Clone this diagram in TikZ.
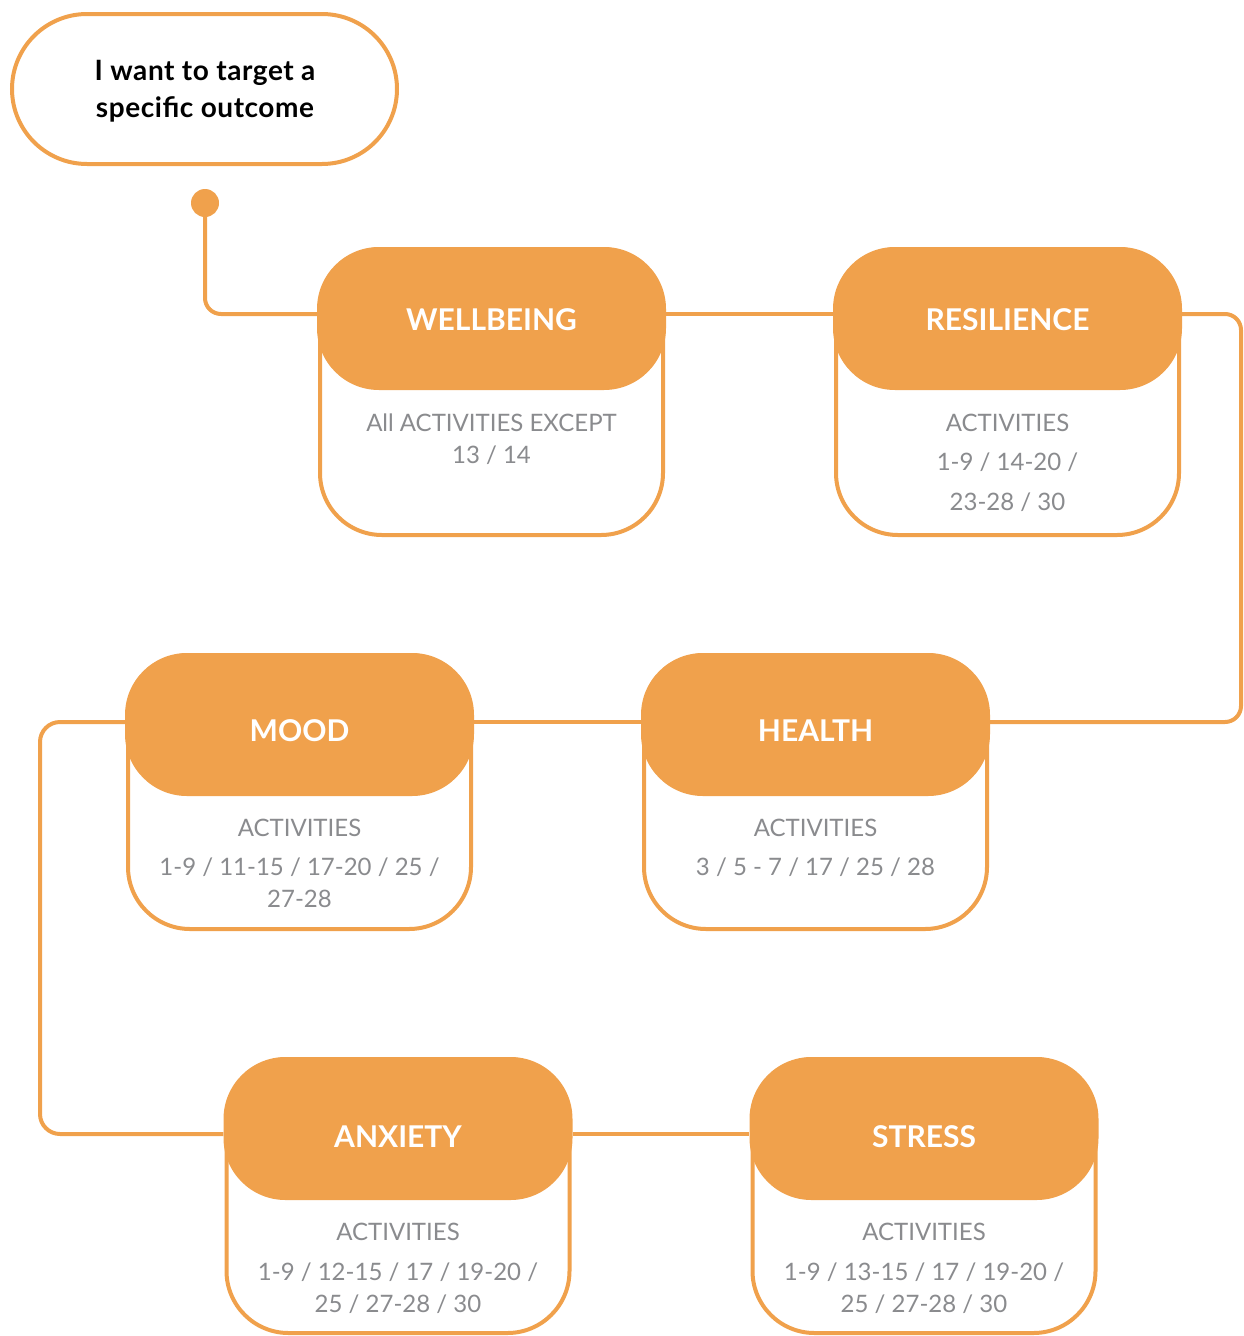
\documentclass[tikz,border=0pt]{standalone}
\usepackage{fontspec}
\setmainfont{Lato}
\definecolor{org}{HTML}{F0A14C}
\definecolor{gry}{HTML}{8A8B8E}
\begin{document}
\begin{tikzpicture}[x=1pt,y=-1pt,
 hdr/.style={fill=org, rounded corners=62pt, minimum width=349pt, minimum height=143pt, inner sep=0pt},
 card/.style={draw=org, line width=4pt, fill=white, rounded corners=62pt, minimum width=343pt, inner sep=0pt},
 conn/.style={draw=org, line width=4pt},
 ttl/.style={anchor=base, text=white, font=\fontsize{30}{34}\selectfont\bfseries},
 bod/.style={anchor=base, text=gry, font=\fontsize{24}{28}\selectfont},
 stxt/.style={anchor=base, text=black, font=\fontsize{28}{32}\selectfont\bfseries\addfontfeature{LetterSpace=2}},
]
\useasboundingbox (0,0) rectangle (1243,1336);
% start
\node[draw=org, line width=4pt, fill=white, rounded corners=75pt, minimum width=385pt, minimum height=150pt, inner sep=0pt] (start) at (204.5,89) {};
\node[stxt] (s1) at (205,80) {I want to target a};
\node[stxt] (s2) at (205,117) {specific outcome};
\node[circle, fill=org, minimum size=28pt, inner sep=0pt] (dot) at (205,203) {};
% cards
\node[card, minimum height=286pt] (wellC) at (491.5,392) {};
\node[card, minimum height=286pt] (resC) at (1007.5,392) {};
\node[card, minimum height=274pt] (moodC) at (299.5,792) {};
\node[card, minimum height=274pt] (healthC) at (815.5,792) {};
\node[card, minimum height=274pt] (anxC) at (398,1196) {};
\node[card, minimum height=274pt] (stressC) at (924,1196) {};
% headers
\node[hdr] (well) at (491.5,318.5) {};
\node[hdr] (res) at (1007.5,318.5) {};
\node[hdr] (mood) at (299.5,724.5) {};
\node[hdr] (health) at (815.5,724.5) {};
\node[hdr] (anx) at (398,1128.5) {};
\node[hdr] (stress) at (924,1128.5) {};
% titles
\node[ttl] (wellT) at (491.5,330) {WELLBEING};
\node[ttl] (resT) at (1007.5,330) {RESILIENCE};
\node[ttl] (moodT) at (299.5,741) {MOOD};
\node[ttl] (healthT) at (815.5,741) {HEALTH};
\node[ttl] (anxT) at (398,1147) {ANXIETY};
\node[ttl] (stressT) at (924,1147) {STRESS};
% body
\node[bod] (wellB1) at (491.5,431.5) {All ACTIVITIES EXCEPT};
\node[bod] (wellB2) at (491.5,463.5) {13 / 14};
\node[bod] (resB1) at (1007.5,431.5) {ACTIVITIES};
\node[bod] (resB2) at (1007.5,470.5) {1-9 / 14-20 /};
\node[bod] (resB3) at (1007.5,510.5) {23-28 / 30};
\node[bod] (moodB1) at (299.5,836.5) {ACTIVITIES};
\node[bod] (moodB2) at (299.5,875.5) {1-9 / 11-15 / 17-20 / 25 /};
\node[bod] (moodB3) at (299.5,907.5) {27-28};
\node[bod] (healthB1) at (815.5,836.5) {ACTIVITIES};
\node[bod] (healthB2) at (815.5,875.5) {3 / 5 - 7 / 17 / 25 / 28};
\node[bod] (anxB1) at (398,1240.5) {ACTIVITIES};
\node[bod] (anxB2) at (398,1280.5) {1-9 / 12-15 / 17 / 19-20 /};
\node[bod] (anxB3) at (398,1312.5) {25 / 27-28 / 30};
\node[bod] (stressB1) at (924,1240.5) {ACTIVITIES};
\node[bod] (stressB2) at (924,1280.5) {1-9 / 13-15 / 17 / 19-20 /};
\node[bod] (stressB3) at (924,1312.5) {25 / 27-28 / 30};
% connectors
\coordinate (r1) at (1241,314);
\coordinate (r2) at (1241,722);
\coordinate (l1) at (40,722);
\coordinate (l2) at (40,1134);
\draw[conn, rounded corners=16pt] (dot.center) |- ([yshift=4.5pt]well.west);
\draw[conn] ([yshift=4.5pt]well.east) -- ([yshift=4.5pt]res.west);
\draw[conn, rounded corners=16pt] ([yshift=4.5pt]res.east) -- (r1) -- (r2) -- ([yshift=2.5pt]health.east);
\draw[conn] ([yshift=2.5pt]mood.east) -- ([yshift=2.5pt]health.west);
\draw[conn, rounded corners=20pt] ([yshift=2.5pt]mood.west) -- (l1) -- (l2) -- ([yshift=-5.5pt]anx.west);
\draw[conn] ([yshift=-5.5pt]anx.east) -- ([yshift=-5.5pt]stress.west);
\end{tikzpicture}
\end{document}
